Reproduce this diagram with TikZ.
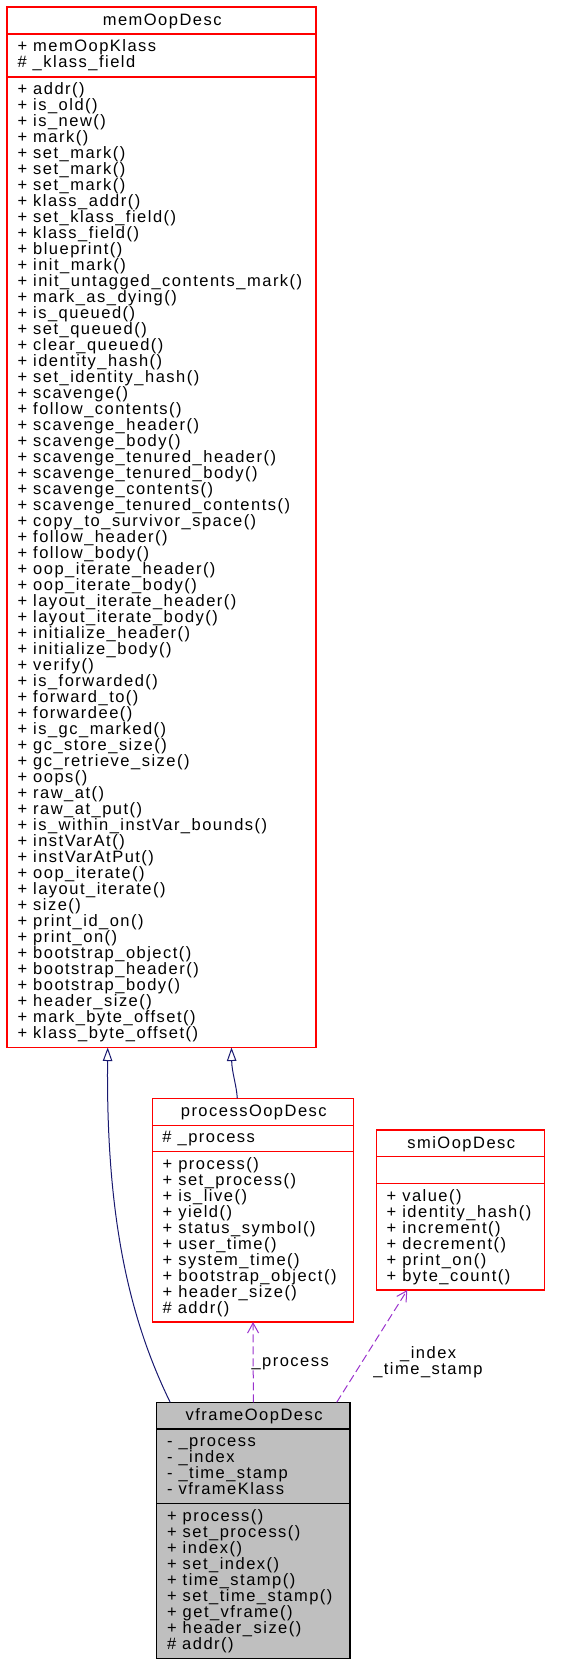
\documentclass[tikz,border=0pt]{standalone}
\usepackage{fontspec}
\setmainfont[LetterSpace=9.0]{Liberation Sans}
\usetikzlibrary{arrows.meta,calc}
\definecolor{boxred}{HTML}{FF0000}
\definecolor{inhblue}{HTML}{191970}
\definecolor{depviolet}{HTML}{9A32CD}
\definecolor{vfill}{HTML}{BFBFBF}
\begin{document}
\begin{tikzpicture}[x=1pt,y=-1pt,
  txt/.style={anchor=base west, inner sep=0pt, outer sep=0pt, font=\fontsize{16.5}{16}\selectfont},
  ttl/.style={anchor=base, inner sep=0pt, outer sep=0pt, font=\fontsize{16.5}{16}\selectfont},
  classbox/.style={draw=boxred, line width=1.2pt, anchor=north west, inner sep=0pt, outer sep=0pt, fill=white},
  curbox/.style={draw=black, line width=1.2pt, anchor=north west, inner sep=0pt, outer sep=0pt, fill=vfill},
  sepline/.style={draw=boxred, line width=1.2pt},
  cursep/.style={draw=black, line width=1.2pt},
  inh/.style={draw=inhblue, line width=1pt, -{Triangle[open, length=13.5pt, width=9.5pt]}},
  dep/.style={draw=depviolet, line width=1pt, dash pattern=on 8pt off 4pt, -{Straight Barb[length=10pt, width=11pt]}}
]
\useasboundingbox (0,0) rectangle (580,1666);

% boxes
\node[classbox, minimum width=309pt, minimum height=1040.5pt] (mem) at (7,7) {};
\node[classbox, minimum width=201.3pt, minimum height=223.7pt] (proc) at (152.4,1098.3) {};
\node[classbox, minimum width=168pt, minimum height=160pt] (smi) at (376.6,1130) {};
\node[curbox, minimum width=193.3pt, minimum height=256pt] (vframe) at (156.7,1402.3) {};

% separators
\draw[sepline] ($(mem.north west)+(0,27)$) -- ($(mem.north east)+(0,27)$);
\draw[sepline] ($(mem.north west)+(0,70)$) -- ($(mem.north east)+(0,70)$);
\draw[sepline] ($(proc.north west)+(0,27)$) -- ($(proc.north east)+(0,27)$);
\draw[sepline] ($(proc.north west)+(0,53.4)$) -- ($(proc.north east)+(0,53.4)$);
\draw[sepline] ($(smi.north west)+(0,26.7)$) -- ($(smi.north east)+(0,26.7)$);
\draw[sepline] ($(smi.north west)+(0,53.7)$) -- ($(smi.north east)+(0,53.7)$);
\draw[cursep] ($(vframe.north west)+(0,26.7)$) -- ($(vframe.north east)+(0,26.7)$);
\draw[cursep] ($(vframe.north west)+(0,101.4)$) -- ($(vframe.north east)+(0,101.4)$);

% titles
\node[ttl] (memt) at (162.2,25.3) {memOopDesc};
\node[ttl] (proct) at (253.8,1116.6) {processOopDesc};
\node[ttl] (smit) at (461.3,1148.3) {smiOopDesc};
\node[ttl] (vframet) at (254.1,1420.6) {vframeOopDesc};

% memOopDesc
\foreach \t [count=\i from 0] in {+ memOopKlass, \# \_klass\_field}
  \node[txt] (ma\i) at (17.5,{51.3+16*\i}) {\t};
\foreach \t [count=\i from 0] in {+ addr(), + is\_old(), + is\_new(), + mark(), + set\_mark(), + set\_mark(), + set\_mark(), + klass\_addr(), + set\_klass\_field(), + klass\_field(), + blueprint(), + init\_mark(), + init\_untagged\_contents\_mark(), + mark\_as\_dying(), + is\_queued(), + set\_queued(), + clear\_queued(), + identity\_hash(), + set\_identity\_hash(), + scavenge(), + follow\_contents(), + scavenge\_header(), + scavenge\_body(), + scavenge\_tenured\_header(), + scavenge\_tenured\_body(), + scavenge\_contents(), + scavenge\_tenured\_contents(), + copy\_to\_survivor\_space(), + follow\_header(), + follow\_body(), + oop\_iterate\_header(), + oop\_iterate\_body(), + layout\_iterate\_header(), + layout\_iterate\_body(), + initialize\_header(), + initialize\_body(), + verify(), + is\_forwarded(), + forward\_to(), + forwardee(), + is\_gc\_marked(), + gc\_store\_size(), + gc\_retrieve\_size(), + oops(), + raw\_at(), + raw\_at\_put(), + is\_within\_instVar\_bounds(), + instVarAt(), + instVarAtPut(), + oop\_iterate(), + layout\_iterate(), + size(), + print\_id\_on(), + print\_on(), + bootstrap\_object(), + bootstrap\_header(), + bootstrap\_body(), + header\_size(), + mark\_byte\_offset(), + klass\_byte\_offset()}
  \node[txt] (mm\i) at (17.5,{94.3+16*\i}) {\t};

% processOopDesc
\node[txt] (pa0) at (162.4,1142.6) {\# \_process};
\foreach \t [count=\i from 0] in {+ process(), + set\_process(), + is\_live(), + yield(), + status\_symbol(), + user\_time(), + system\_time(), + bootstrap\_object(), + header\_size(), \# addr()}
  \node[txt] (pm\i) at (162.6,{1169+16*\i}) {\t};

% smiOopDesc
\foreach \t [count=\i from 0] in {+ value(), + identity\_hash(), + increment(), + decrement(), + print\_on(), + byte\_count()}
  \node[txt] (sm\i) at (386.6,{1201+16*\i}) {\t};

% vframeOopDesc
\foreach \t [count=\i from 0] in {- \_process, - \_index, - \_time\_stamp, - vframeKlass}
  \node[txt] (va\i) at (167,{1446.3+16*\i}) {\t};
\foreach \t [count=\i from 0] in {+ process(), + set\_process(), + index(), + set\_index(), + time\_stamp(), + set\_time\_stamp(), + get\_vframe(), + header\_size(), \# addr()}
  \node[txt] (vm\i) at (167,{1521+16*\i}) {\t};

% edges
\draw[inh] ($(vframe.north west)+(13.5,0)$) .. controls (130,1320) and (106,1220) .. ($(mem.south west)+(100.7,0)$);
\draw[inh] ($(proc.north west)+(84.9,0)$) .. controls (236.5,1085) and (231.8,1072) .. ($(mem.south west)+(224.5,0)$);
\draw[dep] (vframe.north) -- (proc.south);
\draw[dep] ($(vframe.north west)+(180,0)$) -- ($(smi.south west)+(30.7,0)$);

% edge labels
\node[ttl] (lproc) at (290.2,1366.7) {\_process};
\node[ttl] (lidx) at (428.2,1358.7) {\_index};
\node[ttl] (lts) at (427.9,1374.7) {\_time\_stamp};
\end{tikzpicture}
\end{document}
